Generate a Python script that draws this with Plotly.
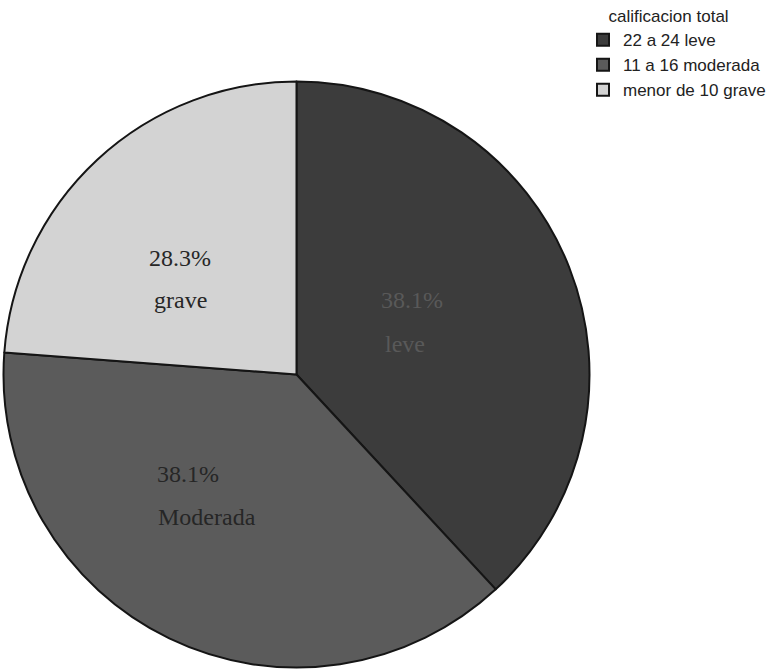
import plotly.graph_objects as go

# Data
categories = ["22 a 24 leve", "11 a 16 moderada", "menor de 10 grave"]
values = [38.1, 38.1, 23.8]
pct_labels = ["38.1%", "38.1%", "28.3%"]
name_labels = ["leve", "Moderada", "grave"]
legend_title = "calificacion total"

colors = ["#3c3c3c", "#5b5b5b", "#d3d3d3"]
text_colors = ["#595959", "#262626", "#262626"]

W, H = 766, 671
cx, cy, R = 296.5, 374.5, 293

fig = go.Figure(go.Pie(
    labels=categories,
    values=values,
    sort=False,
    direction="clockwise",
    rotation=0,
    marker=dict(colors=colors, line=dict(color="#151515", width=2)),
    textinfo="none",
    hoverinfo="label+percent",
    domain=dict(x=[(cx - R) / W, (cx + R) / W], y=[1 - (cy + R) / H, 1 - (cy - R) / H]),
))

# label positions (pixel centres of text lines) for each slice
label_pos = [
    ((412, 300), (405, 344)),
    ((188, 474), (207, 517)),
    ((180, 258), (180, 300)),
]
annotations = []
for i in range(len(categories)):
    (px1, py1), (px2, py2) = label_pos[i]
    for txt, (px, py) in ((pct_labels[i], (px1, py1)), (name_labels[i], (px2, py2))):
        annotations.append(dict(
            x=px / W, y=1 - py / H, xref="paper", yref="paper",
            text=txt, showarrow=False, xanchor="center", yanchor="middle",
            font=dict(family="Liberation Serif, Times New Roman, serif", size=24, color=text_colors[i]),
        ))

fig.update_layout(
    width=W, height=H,
    margin=dict(l=0, r=0, t=0, b=0, autoexpand=False),
    paper_bgcolor="white",
    plot_bgcolor="white",
    showlegend=True,
    legend=dict(
        title=dict(text="&nbsp;" * 5 + legend_title,
                   font=dict(family="Liberation Sans, Arial, sans-serif", size=17, color="#222")),
        font=dict(family="Liberation Sans, Arial, sans-serif", size=17, color="#222"),
        x=583 / W, y=1.0, xanchor="left", yanchor="top",
        bgcolor="rgba(0,0,0,0)",
    ),
    annotations=annotations,
)

fig.write_html("out.html")
